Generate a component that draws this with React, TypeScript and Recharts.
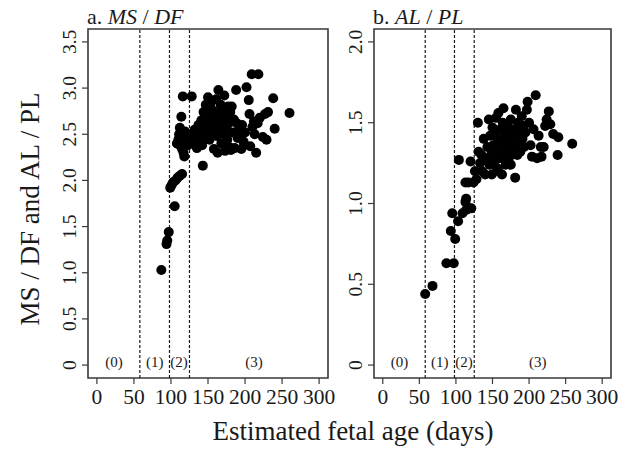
import React from 'react';
import {
  ScatterChart,
  Scatter,
  XAxis,
  YAxis,
  ReferenceLine,
  ReferenceArea,
} from 'recharts';

// panel a: MS / DF
const msdfAge = [
  87, 94, 95, 97, 105, 99, 101, 103, 106, 109, 112, 115,
  114, 112, 111, 110, 108, 112, 115, 117, 118, 120, 122, 119, 123, 116, 116, 128,
  143, 126, 128, 130, 132, 134, 135, 137, 138, 140, 141, 142, 144, 145, 146, 147,
  148, 149, 150, 151, 152, 153, 154, 155, 156, 157, 158, 159, 160, 161, 162, 163,
  164, 165, 166, 167, 168, 169, 170, 171, 172, 173, 174, 175, 176, 177, 178, 179,
  180, 182, 183, 185, 186, 188, 189, 190, 192, 193, 195, 196, 198, 200,
  202, 205, 206, 207, 209, 210, 212, 213, 217, 218, 224, 227, 229, 231, 238, 240,
  260, 181, 220, 215,
];
const msdfRatio = [
  1.03, 1.31, 1.35, 1.44, 1.72, 1.92, 1.95, 1.98, 2.0, 2.03, 2.05, 2.07,
  2.69, 2.57, 2.5, 2.44, 2.4, 2.38, 2.34, 2.3, 2.26, 2.42, 2.48, 2.53, 2.38, 2.46, 2.91, 2.91,
  2.16, 2.45, 2.5, 2.4, 2.55, 2.48, 2.35, 2.6, 2.42, 2.52, 2.65, 2.38, 2.74, 2.56, 2.46, 2.82,
  2.62, 2.5, 2.9, 2.7, 2.44, 2.58, 2.78, 2.86, 2.52, 2.66, 2.34, 2.74, 2.6, 2.88, 2.48, 2.3,
  2.98, 2.7, 2.56, 2.82, 2.4, 2.64, 2.76, 2.5, 2.92, 2.32, 2.68, 2.58, 2.44, 2.8, 2.62, 2.36,
  2.74, 2.8, 2.52, 2.66, 2.35, 2.98, 2.62, 2.46, 2.56, 2.47, 2.34, 2.6, 2.42, 2.52,
  3.01, 2.87, 2.72, 2.37, 3.15, 2.58, 2.64, 2.5, 2.62, 3.15, 2.47, 2.72, 2.44, 2.74, 2.89, 2.56,
  2.73, 2.33, 2.68, 2.3,
];

// panel b: AL / PL
const alplAge = [
  58, 68, 87, 97, 93, 99, 95, 103, 109, 114, 113, 114, 118, 113, 117, 104, 121,
  120, 124, 126, 128, 130, 131, 133, 135,
  138, 140, 141, 143, 145, 146, 147, 148, 149, 150, 151, 152, 153, 154, 155, 156,
  157, 158, 159, 160, 161, 162, 163, 164, 165, 166, 167, 168, 169, 170, 171, 172,
  173, 174, 175, 176, 177, 178, 180, 181, 182, 183, 184, 185, 186, 187, 188, 190,
  191, 192, 193, 195, 197, 198, 200, 202, 204, 206, 209, 211, 213, 216, 217, 220,
  222, 224, 227, 229, 233, 239, 240, 259, 136, 144, 158, 175,
];
const alplRatio = [
  0.44, 0.49, 0.63, 0.63, 0.83, 0.78, 0.94, 0.89, 0.94, 0.96, 1.01, 1.03, 0.97, 1.13, 1.13, 1.27, 0.97,
  1.26, 1.13, 1.2, 1.15, 1.5, 1.32, 1.25, 1.3,
  1.4, 1.18, 1.28, 1.35, 1.52, 1.24, 1.42, 1.3, 1.18, 1.47, 1.36, 1.26, 1.44, 1.32, 1.53, 1.22,
  1.4, 1.56, 1.34, 1.28, 1.46, 1.38, 1.18, 1.5, 1.59, 1.3, 1.42, 1.24, 1.36, 1.48, 1.32, 1.26,
  1.44, 1.38, 1.52, 1.3, 1.4, 1.46, 1.34, 1.16, 1.58, 1.42, 1.3, 1.5, 1.38, 1.46, 1.32, 1.54,
  1.4, 1.48, 1.35, 1.44, 1.58, 1.63, 1.5, 1.36, 1.29, 1.46, 1.67, 1.28, 1.42, 1.35, 1.29, 1.35,
  1.48, 1.52, 1.57, 1.49, 1.43, 1.3, 1.41, 1.37, 1.2, 1.26, 1.2, 1.24,
];

const stageBounds = [58, 98, 125];
const stageNames = ['(0)', '(1)', '(2)', '(3)'];
const stageNameAge = [23, 78, 111, 212];
const ageTicks = [0, 50, 100, 150, 200, 250, 300];
const msdfTicks = [0, 0.5, 1, 1.5, 2, 2.5, 3, 3.5];
const alplTicks = [0, 0.5, 1, 1.5, 2];

const serif = '"Liberation Serif", "DejaVu Serif", serif';
const ink = '#1a1a1a';
const frame = '#3a3a3a';

const toPoints = (xs: number[], ys: number[]) => xs.map((x, i) => ({ x, y: ys[i] }));

const fmtRatio = (v: number) => (v === 0 ? '0' : v.toFixed(1));

const XTick = (props: any) => {
  const { x, y, payload } = props;
  return (
    <text x={x} y={y + 18} textAnchor="middle" fontSize={21.5} fontFamily={serif} fill={ink}>
      {payload.value}
    </text>
  );
};

const YTick = (props: any) => {
  const { x, y, payload } = props;
  const bx = x - 4;
  return (
    <text
      x={bx}
      y={y}
      transform={`rotate(-90 ${bx} ${y})`}
      textAnchor="middle"
      fontSize={19.5}
      fontFamily={serif}
      fill={ink}
    >
      {fmtRatio(payload.value)}
    </text>
  );
};

const Dot = (props: any) => <circle cx={props.cx} cy={props.cy} r={5} fill="#000" />;

const StageText = (props: any) => (
  <text
    x={props.cx}
    y={props.cy}
    dy="0.32em"
    textAnchor="middle"
    fontSize={15}
    fontFamily={serif}
    fill={ink}
  >
    {props.payload.label}
  </text>
);

interface PanelProps {
  left: number;
  width: number;
  axisWidth: number;
  rightGap: number;
  yMax: number;
  yTicks: number[];
  points: { x: number; y: number }[];
}

function Panel({ left, width, axisWidth, rightGap, yMax, yTicks, points }: PanelProps) {
  const pad = yMax * 0.04;
  const yDomain: [number, number] = [-pad, yMax + pad];
  const stageData = stageNames.map((label, i) => ({ x: stageNameAge[i], y: yMax * 0.008, label }));
  return (
    <div style={{ position: 'absolute', left, top: 0 }}>
      <ScatterChart
        width={width}
        height={456}
        margin={{ top: 29, right: rightGap, bottom: 0, left: 0 }}
      >
        <XAxis
          type="number"
          dataKey="x"
          domain={[-12, 312]}
          ticks={ageTicks}
          allowDataOverflow
          axisLine={false}
          tickLine={{ stroke: frame, strokeWidth: 1.2 }}
          tickSize={6}
          height={78}
          tick={<XTick />}
        />
        <YAxis
          type="number"
          dataKey="y"
          domain={yDomain}
          ticks={yTicks}
          allowDataOverflow
          axisLine={false}
          tickLine={{ stroke: frame, strokeWidth: 1.2 }}
          tickSize={6}
          width={axisWidth}
          tick={<YTick />}
        />
        <ReferenceArea
          x1={-12}
          x2={312}
          y1={yDomain[0]}
          y2={yDomain[1]}
          fill="none"
          stroke={frame}
          strokeWidth={1.6}
          ifOverflow="visible"
        />
        {stageBounds.map((b) => (
          <ReferenceLine key={b} x={b} stroke={ink} strokeWidth={1.2} strokeDasharray="3 2" />
        ))}
        <Scatter data={stageData} shape={<StageText />} isAnimationActive={false} />
        <Scatter data={points} shape={<Dot />} isAnimationActive={false} />
      </ScatterChart>
    </div>
  );
}

export default function App() {
  return (
    <div
      style={{
        position: 'absolute',
        left: 0,
        top: 0,
        width: 619,
        height: 456,
        background: '#fff',
        overflow: 'hidden',
      }}
    >
      <Panel
        left={0}
        width={340}
        axisWidth={88}
        rightGap={12}
        yMax={3.5}
        yTicks={msdfTicks}
        points={toPoints(msdfAge, msdfRatio)}
      />
      <Panel
        left={290}
        width={329}
        axisWidth={84}
        rightGap={8}
        yMax={2}
        yTicks={alplTicks}
        points={toPoints(alplAge, alplRatio)}
      />
      <svg
        width={619}
        height={456}
        style={{ position: 'absolute', left: 0, top: 0, pointerEvents: 'none' }}
      >
        <text x={87} y={24} fontSize={22} fontFamily={serif} fill={ink}>
          a. <tspan fontStyle="italic">MS</tspan> / <tspan fontStyle="italic">DF</tspan>
        </text>
        <text x={373} y={24} fontSize={22} fontFamily={serif} fill={ink}>
          b. <tspan fontStyle="italic">AL</tspan> / <tspan fontStyle="italic">PL</tspan>
        </text>
        <text
          x={39}
          y={209}
          transform="rotate(-90 39 209)"
          textAnchor="middle"
          fontSize={27}
          fontFamily={serif}
          fill={ink}
        >
          MS / DF and AL / PL
        </text>
        <text x={353} y={440} textAnchor="middle" fontSize={27} fontFamily={serif} fill={ink}>
          Estimated fetal age (days)
        </text>
      </svg>
    </div>
  );
}
